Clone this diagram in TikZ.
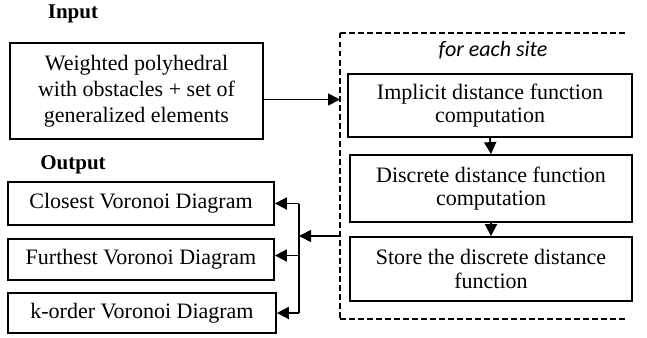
\documentclass[tikz,border=0pt]{standalone}
\usepackage{fontspec}
\setmainfont{Liberation Serif}
\newfontfamily\notefont{Carlito}
\usetikzlibrary{arrows.meta}
\begin{document}
\begin{tikzpicture}[x=1pt,y=-1pt,
  every node/.style={font=\fontsize{22}{26}\selectfont, inner sep=0pt},
  box/.style={draw, line width=1.8pt, align=center},
  head/.style={font=\fontsize{21}{24}\selectfont\bfseries},
  arr/.style={line width=1.8pt, -{Triangle[length=12pt,width=12pt]}},
  conn/.style={line width=1.8pt},
  frame/.style={dash pattern=on 5.5pt off 3.5pt, line width=1.5pt}]
\useasboundingbox (0,0) rectangle (647,337);

% dashed loop frame, open on the right
\draw[frame] (340,33) -- (625,33);
\draw[frame] (340,33) -- (340,319);
\draw[frame] (340,319) -- (625,319);
\coordinate (loopw) at (340,176);
\node[font=\fontsize{22}{24}\notefont\itshape] (site) at (493,50) {for each site};

% input
\node[head] (inlbl) at (73,14) {Input};
\node[box, minimum width=253pt, minimum height=96pt,
      font=\fontsize{22}{26}\selectfont] (inbox) at (136.5,91)
  {Weighted polyhedral\\with obstacles + set of\\generalized elements};

% per-site steps
\node[box, minimum width=284pt, minimum height=63pt,
      font=\fontsize{22}{23.5}\selectfont] (s1) at (490,105.5)
  {Implicit distance function\\computation};
\node[box, minimum width=282pt, minimum height=67pt,
      font=\fontsize{22}{23.5}\selectfont] (s2) at (491,188.5)
  {Discrete distance function\\computation};
\node[box, minimum width=282pt, minimum height=64pt,
      font=\fontsize{22}{23.5}\selectfont] (s3) at (491,269)
  {Store the discrete distance\\function};

% output
\node[head] (outlbl) at (73,165) {Output};
\node[box, minimum width=266pt, minimum height=43pt] (oc) at (141,203.5)
  {Closest Voronoi Diagram};
\node[box, minimum width=266pt, minimum height=41pt] (of) at (141,259.5)
  {Furthest Voronoi Diagram};
\node[box, minimum width=268pt, minimum height=40pt] (ok) at (142,313)
  {k-order Voronoi Diagram};

% connectors
\coordinate (ia) at ([yshift=-8.5pt]inbox.east);
\draw[arr] (ia) -- (loopw |- ia);
\draw[arr] (s1.south) -- (s2.north);
\draw[arr] (s2.south) -- (s3.north);

\coordinate (j) at (299,236);
\coordinate (fe) at ([yshift=4pt]of.east);
\draw[arr] (loopw |- j) -- (j);
\draw[conn] (j |- oc.east) -- (j |- ok.east);
\draw[arr] (j |- oc.east) -- (oc.east);
\draw[arr] (j |- fe) -- (fe);
\draw[arr] (j |- ok.east) -- (ok.east);
\end{tikzpicture}
\end{document}
